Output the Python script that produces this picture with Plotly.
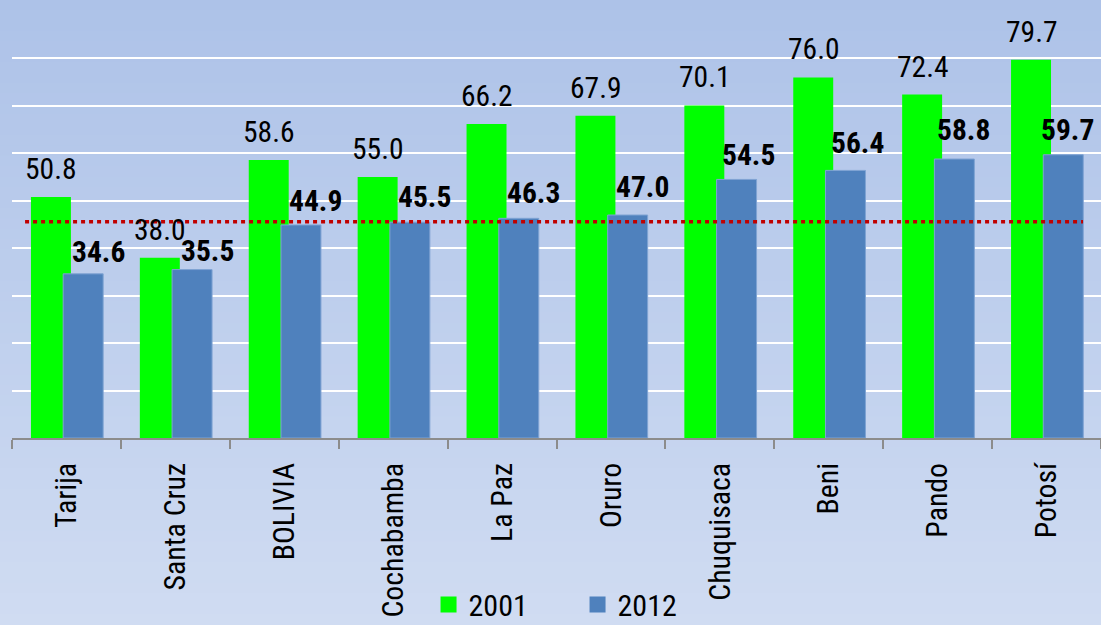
import plotly.graph_objects as go

categories = ["Tarija", "Santa Cruz", "BOLIVIA", "Cochabamba", "La Paz", "Oruro",
              "Chuquisaca", "Beni", "Pando", "Potosí"]
values_2001 = [50.8, 38.0, 58.6, 55.0, 66.2, 67.9, 70.1, 76.0, 72.4, 79.7]
values_2012 = [34.6, 35.5, 44.9, 45.5, 46.3, 47.0, 54.5, 56.4, 58.8, 59.7]
series_names = ["2001", "2012"]
reference_value = 45.6

# label placement tweaks (pixels) for the 2012 value labels, as in the original
label_dx_2012 = [15, 15, 15, 15, 15, 15, 12, 12, 9, 4]
label_gap_2012 = [10, 7, 12, 13, 13, 16, 12, 15, 17, 13]

FONT = "Roboto Condensed, Noto Sans Condensed, Roboto, sans-serif"
GREEN = "#00FF00"
BLUE = "#4F81BD"

W, H = 1101, 625
ML, MR, MT, MB = 12, 0, 11, 187

idx = list(range(len(categories)))
BAR_W = 0.367
OFF_G = -0.326
OFF_B = -0.030
LBL = 29.5
DESC = 7

fig = go.Figure()
fig.add_trace(go.Bar(
    x=idx, y=values_2001, name=series_names[0], width=BAR_W, offset=OFF_G,
    marker=dict(color=GREEN, line=dict(width=0)), showlegend=False,
))
fig.add_trace(go.Bar(
    x=idx, y=values_2012, name=series_names[1], width=BAR_W, offset=OFF_B,
    marker=dict(color=BLUE, line=dict(color="#7FA3D3", width=1)), showlegend=False,
))
# legend-only entries with larger square swatches
for name, col in zip(series_names, [GREEN, BLUE]):
    fig.add_trace(go.Scatter(
        x=[None], y=[None], mode="markers", name=name,
        marker=dict(symbol="square", size=16, color=col, line=dict(width=0)),
    ))

annotations = []
for i, v in zip(idx, values_2001):
    annotations.append(dict(
        x=i + OFF_G + BAR_W / 2, y=v, xref="x", yref="y", text=f"{v:.1f}",
        showarrow=False, yanchor="bottom", yshift=16 - DESC,
        font=dict(family=FONT, size=LBL, color="#000000"),
    ))
for i, v, dx, g in zip(idx, values_2012, label_dx_2012, label_gap_2012):
    annotations.append(dict(
        x=i + OFF_B + BAR_W / 2, y=v, xref="x", yref="y", text=f"{v:.1f}",
        showarrow=False, yanchor="bottom", yshift=g - DESC, xshift=dx,
        font=dict(family=FONT, size=LBL, color="#000000", weight="bold"),
    ))

# background gradient
shapes = []
N = 60
top_c = (173, 194, 232)
bot_c = (208, 220, 242)
ph = H - MT - MB
for k in range(N):
    p0 = H * k / N - 0.5
    p1 = H * (k + 1) / N + 0.5
    t = (k + 0.5) / N
    c = tuple(round(top_c[j] + (bot_c[j] - top_c[j]) * t) for j in range(3))
    shapes.append(dict(
        type="rect", xref="paper", yref="paper", layer="below",
        x0=-0.05, x1=1.05,
        y0=(H - MB - p1) / ph, y1=(H - MB - p0) / ph,
        fillcolor=f"rgb{c}", line=dict(width=0),
    ))

shapes.append(dict(
    type="line", xref="x", yref="y", x0=-0.38, x1=9.335,
    y0=reference_value, y1=reference_value,
    line=dict(color="#C00000", width=3.5, dash="4px,4px"), layer="above",
))

fig.update_layout(
    width=W, height=H,
    margin=dict(l=ML, r=MR, t=MT, b=MB, autoexpand=False),
    paper_bgcolor="rgb(208,220,242)",
    plot_bgcolor="rgba(0,0,0,0)",
    barmode="overlay",
    annotations=annotations,
    shapes=shapes,
    font=dict(family=FONT, size=30, color="#000000"),
    showlegend=True,
    legend=dict(
        orientation="h", x=0.3825, xanchor="left",
        y=-(604.5 - (H - MB)) / ph, yanchor="middle",
        font=dict(family=FONT, size=30, color="#000000"),
        bgcolor="rgba(0,0,0,0)", entrywidth=104, entrywidthmode="pixels",
        itemsizing="trace", itemclick=False, itemdoubleclick=False,
    ),
    xaxis=dict(
        range=[-0.5, 9.5], tickvals=idx, ticktext=categories, tickangle=-90,
        ticks="", showgrid=False, zeroline=False,
        showline=True, linecolor="#8C8C8C", linewidth=2,
        tickfont=dict(family=FONT, size=29.8, color="#000000"),
        ticklabelstandoff=11,
        minor=dict(tickvals=[i - 0.5 for i in range(len(categories) + 1)],
                   ticks="outside", ticklen=9, tickcolor="#8C8C8C", tickwidth=2,
                   showgrid=False),
        fixedrange=True,
    ),
    yaxis=dict(
        range=[0, 90], dtick=10, showticklabels=False, ticks="",
        showgrid=True, gridcolor="#FFFFFF", gridwidth=1.5,
        zeroline=False, showline=False, fixedrange=True,
    ),
)

fig.write_html("out.html", config={"displayModeBar": False},
               post_script="document.body.style.margin='0';document.body.style.overflow='hidden';")
